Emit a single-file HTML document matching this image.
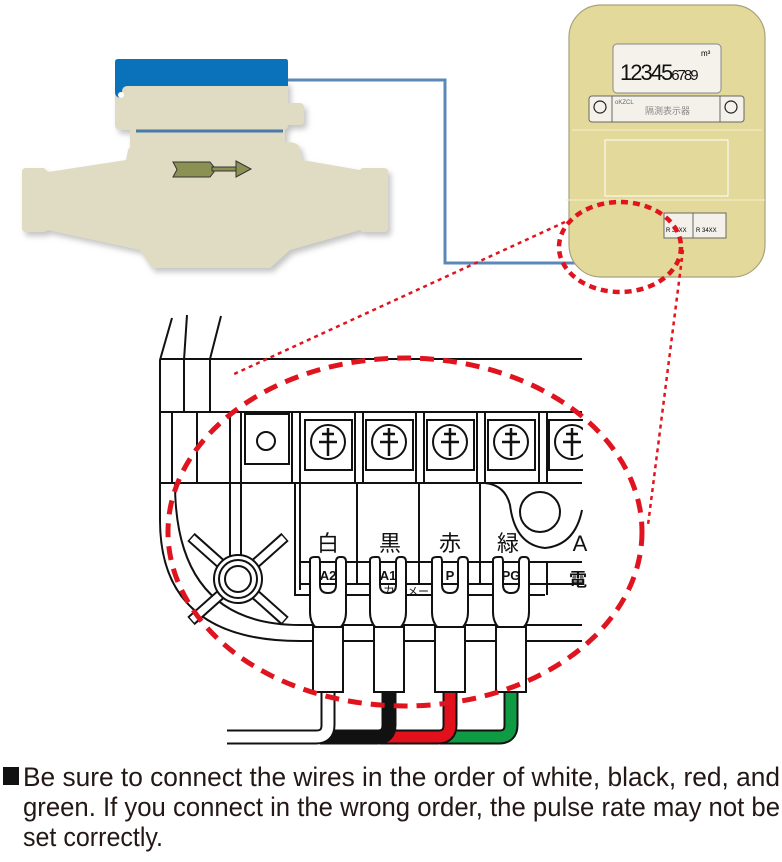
<!DOCTYPE html>
<html><head><meta charset="utf-8"><style>
html,body{margin:0;padding:0;background:#fff;}
svg{display:block;}
</style></head><body>
<svg width="782" height="862" viewBox="0 0 782 862" xmlns="http://www.w3.org/2000/svg" font-family="Liberation Sans, sans-serif">
<defs><filter id="sh" x="-10%" y="-10%" width="130%" height="130%"><feDropShadow dx="3" dy="4" stdDeviation="3" flood-color="#888" flood-opacity="0.5"/></filter></defs>
<g filter="url(#sh)" fill="#e0dcc4">
<path d="M22,172 Q22,168 26,168 L44,168 L48,172 L126,160 L128,150 Q132,142 142,142 L286,142 Q300,142 300,150 L302,160 L360,170 L362,168 L384,168 Q388,168 388,172 L388,228 Q388,232 384,232 L362,232 L360,230 L290,250 L270,268 L152,268 L140,250 L48,230 L44,232 L26,232 Q22,232 22,228 Z"/>
<rect x="115" y="80" width="173" height="50" rx="5"/>
<rect x="280" y="103" width="24" height="22" rx="4"/>
<rect x="130" y="128" width="155" height="18"/>
</g>
<path d="M118,59 L286,59 Q288,59 288,62 L288,86 L128,86 Q122,86 122,92 L122,98 Q115,98 115,92 L115,62 Q115,59 118,59 Z" fill="#0a72bb"/>
<circle cx="121" cy="95" r="3" fill="#fff"/>
<line x1="136" y1="131" x2="283" y2="131" stroke="#4d78a8" stroke-width="3"/>
<g stroke="#333" stroke-width="1" fill="#8b9153">
<path d="M173,162 L210,162 L214,167 L214,172 L210,177 L173,177 L177,169.5 Z"/>
<rect x="212" y="167" width="26" height="4"/>
<path d="M236,161 L251,169 L236,177 Z"/>
</g>
<polyline points="288,80 445,80 445,263 623,263" fill="none" stroke="#5b88b8" stroke-width="3"/>
<rect x="569" y="5" width="196" height="272" rx="32" fill="#e3d99b" stroke="#a8a27a" stroke-width="1.2"/>
<line x1="572" y1="130" x2="762" y2="130" stroke="#f4efcf" stroke-width="1"/>
<line x1="566" y1="200" x2="765" y2="200" stroke="#f4efcf" stroke-width="1"/>
<rect x="605" y="140" width="123" height="56" fill="none" stroke="#fff" stroke-width="1"/>
<rect x="613" y="44" width="108" height="49" rx="4" fill="#f4f2ea" stroke="#888"/>
<text x="701" y="56" font-size="8">m³</text>
<text x="620" y="80" font-size="22" letter-spacing="-2" fill="#111">12345<tspan font-size="15">6789</tspan></text>
<rect x="589" y="96" width="155" height="26" rx="3" fill="#f3f1ea" stroke="#666"/>
<line x1="612" y1="96" x2="612" y2="122" stroke="#666"/><line x1="720" y1="96" x2="720" y2="122" stroke="#666"/>
<circle cx="600" cy="107" r="6" fill="none" stroke="#222" stroke-width="1.2"/>
<circle cx="731" cy="107" r="6" fill="none" stroke="#222" stroke-width="1.2"/>
<text x="615" y="104" font-size="6" fill="#666">oKZCL</text>
<text x="645" y="114" font-size="9" fill="#888" font-family="Noto Sans CJK JP, sans-serif">隔測表示器</text>
<rect x="664" y="213" width="62" height="25" fill="#f3f1ea" stroke="#666"/>
<line x1="693" y1="213" x2="693" y2="238" stroke="#666"/>
<text x="666" y="232" font-size="6">R 34XX</text><text x="696" y="232" font-size="6">R 34XX</text>
<g fill="none" stroke="#111" stroke-width="2">
<path d="M172,318 L160,360 L160,483"/>
<path d="M187,315 L184,360 L184,412"/>
<path d="M221,316 L210,359 L210,412"/>
<line x1="160" y1="359" x2="582" y2="359"/>
<line x1="160" y1="412" x2="582" y2="412"/>
<line x1="160" y1="483" x2="582" y2="483"/>
<path d="M160,483 L160,520 Q160,641 300,641 L582,641"/>
<path d="M175,483 Q175,625 300,625 L582,625"/>
<line x1="172" y1="412" x2="172" y2="483"/>
<line x1="197" y1="412" x2="197" y2="483"/>
<line x1="230" y1="412" x2="230" y2="483"/>
<line x1="241" y1="412" x2="241" y2="483"/>
<line x1="230" y1="483" x2="230" y2="565"/><line x1="241" y1="483" x2="241" y2="565"/>
<rect x="245" y="414" width="44" height="50"/>
<circle cx="266" cy="441" r="9"/>
<line x1="292" y1="412" x2="292" y2="483"/>
<line x1="300" y1="412" x2="300" y2="483"/>
<line x1="355" y1="412" x2="355" y2="483"/><line x1="363" y1="412" x2="363" y2="483"/>
<line x1="416" y1="412" x2="416" y2="483"/><line x1="424" y1="412" x2="424" y2="483"/>
<line x1="477" y1="412" x2="477" y2="483"/><line x1="485" y1="412" x2="485" y2="483"/>
<line x1="539" y1="412" x2="539" y2="483"/><line x1="547" y1="412" x2="547" y2="483"/>
<path d="M295,483 L295,595 L545,595"/>
<path d="M300,483 L300,590"/>
<line x1="357" y1="483" x2="357" y2="583"/>
<line x1="419" y1="483" x2="419" y2="583"/>
<line x1="480" y1="483" x2="480" y2="583"/>
<line x1="300" y1="562" x2="582" y2="562"/>
<line x1="300" y1="584" x2="582" y2="584"/>
<path d="M485,483 Q505,485 510,505 Q515,545 545,548 Q575,545 582,510"/>
<circle cx="540" cy="512" r="20"/>
<line x1="547" y1="562" x2="547" y2="595"/>
</g>
<g fill="#fff" stroke="#111" stroke-width="2">
<rect x="305" y="420" width="47" height="50"/><circle cx="328" cy="442" r="17"/>
<rect x="366" y="420" width="47" height="50"/><circle cx="389" cy="442" r="17"/>
<rect x="427" y="420" width="47" height="50"/><circle cx="450" cy="442" r="17"/>
<rect x="488" y="420" width="47" height="50"/><circle cx="511" cy="442" r="17"/>
<rect x="549" y="420" width="40" height="50"/><circle cx="572" cy="442" r="17"/>
</g>
<g fill="none" stroke="#111" stroke-width="2.5">
<path d="M322,434 h12 M328,428 v28 M319,442 h18"/>
<path d="M383,434 h12 M389,428 v28 M380,442 h18"/>
<path d="M444,434 h12 M450,428 v28 M441,442 h18"/>
<path d="M505,434 h12 M511,428 v28 M502,442 h18"/>
<path d="M566,434 h12 M572,428 v28 M563,442 h18"/>
</g>
<rect x="583" y="300" width="199" height="450" fill="#fff"/>
<g fill="none" stroke-linecap="butt">
<path d="M191,537 L285,621 M285,537 L191,621" stroke="#111" stroke-width="11"/>
<path d="M192,538 L284,620 M284,538 L192,620" stroke="#fff" stroke-width="7"/>
</g>
<g fill="#fff" stroke="#111" stroke-width="2">
<circle cx="238" cy="579" r="24"/><circle cx="238" cy="579" r="19"/><circle cx="238" cy="579" r="13"/>
</g>
<g font-family="Liberation Sans, Noto Sans CJK JP, sans-serif" font-size="22" fill="#111" text-anchor="middle">
<text x="328" y="551">白</text><text x="390" y="551">黒</text><text x="450" y="551">赤</text><text x="508" y="551">緑</text>
<text x="580" y="551">A</text>
<text x="578" y="586" font-size="18" font-weight="bold">電</text>
<text x="389" y="595" font-size="12">カ</text><text x="418" y="595" font-size="11">メー</text>
</g>
<g fill="#fff" stroke="#111" stroke-width="2">
<path d="M310,560 Q310,557 315,557 L318,557 Q320,557 320,562 L320,585 Q320,593 328,593 Q336,593 336,585 L336,562 Q336,557 340,557 L342,557 Q346,557 346,562 L346,612 Q346,622 340,628 L316,628 Q310,622 310,612 Z"/>
<path d="M370,560 Q370,557 375,557 L378,557 Q380,557 380,562 L380,585 Q380,593 388,593 Q396,593 396,585 L396,562 Q396,557 400,557 L402,557 Q406,557 406,562 L406,612 Q406,622 400,628 L376,628 Q370,622 370,612 Z"/>
<path d="M432,560 Q432,557 437,557 L440,557 Q442,557 442,562 L442,585 Q442,593 450,593 Q458,593 458,585 L458,562 Q458,557 462,557 L464,557 Q468,557 468,562 L468,612 Q468,622 462,628 L438,628 Q432,622 432,612 Z"/>
<path d="M493,560 Q493,557 498,557 L501,557 Q503,557 503,562 L503,585 Q503,593 511,593 Q519,593 519,585 L519,562 Q519,557 523,557 L525,557 Q529,557 529,562 L529,612 Q529,622 523,628 L499,628 Q493,622 493,612 Z"/>
</g>
<g font-size="13" fill="#111" text-anchor="middle" font-weight="bold"><text x="328" y="580">A2</text><text x="388" y="580">A1</text><text x="450" y="580">P</text><text x="511" y="580">PG</text></g>
<g fill="none" stroke-linejoin="round">
<path d="M511,690 L511,725 Q511,737 499,737 L440,737" stroke="#111" stroke-width="15"/>
<path d="M511,690 L511,725 Q511,737 499,737 L440,737" stroke="#0f9a44" stroke-width="11"/>
<path d="M450,690 L450,725 Q450,737 438,737 L380,737" stroke="#111" stroke-width="15"/>
<path d="M450,690 L450,725 Q450,737 438,737 L380,737" stroke="#e1101b" stroke-width="11"/>
<path d="M389,690 L389,725 Q389,737 377,737 L320,737" stroke="#111" stroke-width="15"/>
<path d="M328,690 L328,725 Q328,737 316,737 L227,737" stroke="#111" stroke-width="15"/>
<path d="M328,690 L328,725 Q328,737 316,737 L227,737" stroke="#fff" stroke-width="11"/>
</g>
<g fill="#fff" stroke="#111" stroke-width="2">
<rect x="313" y="627" width="30" height="65"/><rect x="374" y="627" width="30" height="65"/>
<rect x="435" y="627" width="30" height="65"/><rect x="496" y="627" width="30" height="65"/>
</g>
<g fill="none" stroke="#e0141e">
<ellipse cx="405" cy="532" rx="237" ry="174" stroke-width="5" stroke-dasharray="14,9"/>
<ellipse cx="620" cy="247" rx="61" ry="45" stroke-width="4.5" stroke-dasharray="7,5"/>
<line x1="565" y1="222" x2="232" y2="375" stroke-width="2.5" stroke-dasharray="4,4"/>
<line x1="683" y1="250" x2="648" y2="525" stroke-width="2.5" stroke-dasharray="4,4"/>
</g>
<rect x="3" y="767" width="16" height="18" fill="#111"/>
<g font-family="Liberation Sans, sans-serif" font-size="27" fill="#231815">
<text x="23" y="786" textLength="757" lengthAdjust="spacingAndGlyphs">Be sure to connect the wires in the order of white, black, red, and</text>
<text x="23" y="816" textLength="757" lengthAdjust="spacingAndGlyphs">green. If you connect in the wrong order, the pulse rate may not be</text>
<text x="23" y="846" textLength="140" lengthAdjust="spacingAndGlyphs">set correctly.</text>
</g>
</svg>
</body></html>
